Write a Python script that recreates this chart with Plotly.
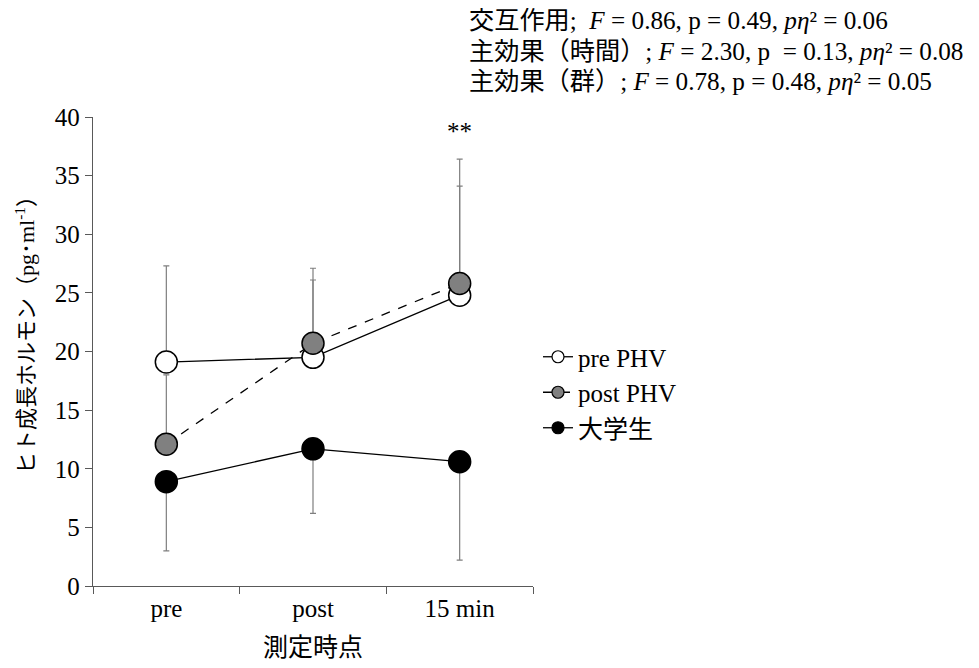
import plotly.graph_objects as go

categories = ["pre", "post", "15 min"]
pre_phv = [19.1, 19.5, 24.8]
pre_phv_sd = [8.2, 6.6, 9.3]
post_phv = [12.1, 20.7, 25.8]
post_phv_sd = [5.9, 6.4, 10.6]
univ = [8.9, 11.7, 10.6]
univ_sd = [5.9, 5.5, 8.4]
y_ticks = [0, 5, 10, 15, 20, 25, 30, 35, 40]

FONT = "Liberation Serif, Times New Roman, Noto Sans CJK JP, serif"
ERR = "#7f7f7f"
FS = 25

# page body has an 8px margin; plot area targets (screen px): x 93..533, y 117..586
OFF = 8
PL, PR, PT, PB = 93, 533, 117, 586
PW, PH = PR - PL, PB - PT

def px(x):
    return (x - PL) / PW

def py(y):
    return (PB - y) / PH

fig = go.Figure()

def add_series(name, y, sd, up, fill, dash):
    zeros = [0] * len(sd)
    fig.add_trace(go.Scatter(
        x=categories, y=y, mode="lines+markers", name=name, showlegend=False,
        line=dict(color="black", width=1.3, dash=dash),
        marker=dict(size=22, color=fill, line=dict(color="black", width=1.5)),
        error_y=dict(type="data", symmetric=False,
                     array=sd if up else zeros,
                     arrayminus=zeros if up else sd,
                     color=ERR, thickness=1.2, width=3),
    ))
    fig.add_trace(go.Scatter(
        x=[None], y=[None], mode="lines+markers", name=name,
        line=dict(color="black", width=1.3, dash=dash),
        marker=dict(size=12, color=fill, line=dict(color="black", width=1.2)),
    ))

add_series("pre PHV", pre_phv, pre_phv_sd, True, "white", "solid")
add_series("post PHV", post_phv, post_phv_sd, True, "#808080", "dash")
add_series("大学生", univ, univ_sd, False, "black", "solid")

fig.add_annotation(x=categories[2], y=38.8, xref="x", yref="y", text="**",
                   showarrow=False, font=dict(size=FS, color="black", family=FONT))

stats = [
    "交互作用;  <i>F</i> = 0.86, p = 0.49, <i>pη</i>² = 0.06",
    "主効果（時間）; <i>F</i> = 2.30, p  = 0.13, <i>pη</i>² = 0.08",
    "主効果（群）; <i>F</i> = 0.78, p = 0.48, <i>pη</i>² = 0.05",
]
for i, s in enumerate(stats):
    fig.add_annotation(x=px(467), y=py(21 + 30 * i),
                       xref="paper", yref="paper", xanchor="left", yanchor="middle",
                       text=s, showarrow=False, align="left",
                       font=dict(size=25.2, color="black", family=FONT))

# axis titles
fig.add_annotation(x=px(313), y=py(647), xref="paper", yref="paper",
                   xanchor="center", yanchor="middle", text="測定時点", showarrow=False,
                   font=dict(size=FS, color="black", family=FONT))
fig.add_annotation(x=px(25), y=py(330), xref="paper", yref="paper",
                   xanchor="center", yanchor="middle", textangle=-90,
                   text="ヒト成長ホルモン（pg･ml<sup>-1</sup>）", showarrow=False,
                   font=dict(size=22, color="black", family=FONT))

fig.update_layout(
    width=979 - OFF, height=668 - OFF,
    margin=dict(l=PL - OFF, r=979 - PR, t=PT - OFF, b=668 - PB),
    plot_bgcolor="white", paper_bgcolor="white",
    font=dict(family=FONT, size=FS, color="black"),
    legend=dict(x=px(538), y=py(334), xanchor="left", yanchor="top",
                font=dict(size=FS, family=FONT), tracegroupgap=0,
                bgcolor="rgba(0,0,0,0)", itemwidth=30),
    xaxis=dict(type="category", range=[-0.5, 2.5], tickson="boundaries",
               ticks="outside", ticklen=7, tickcolor="#595959", automargin=False,
               showline=True, linecolor="#595959", linewidth=1.3,
               showgrid=False, zeroline=False,
               tickfont=dict(size=FS, family=FONT)),
    yaxis=dict(range=[0, 40], tickvals=y_ticks, ticks="outside", ticklen=7,
               tickcolor="#595959", showline=True, linecolor="#595959", linewidth=1.3,
               showgrid=False, zeroline=False, automargin=False,
               tickfont=dict(size=FS, family=FONT)),
)

fig.write_html("out.html")
